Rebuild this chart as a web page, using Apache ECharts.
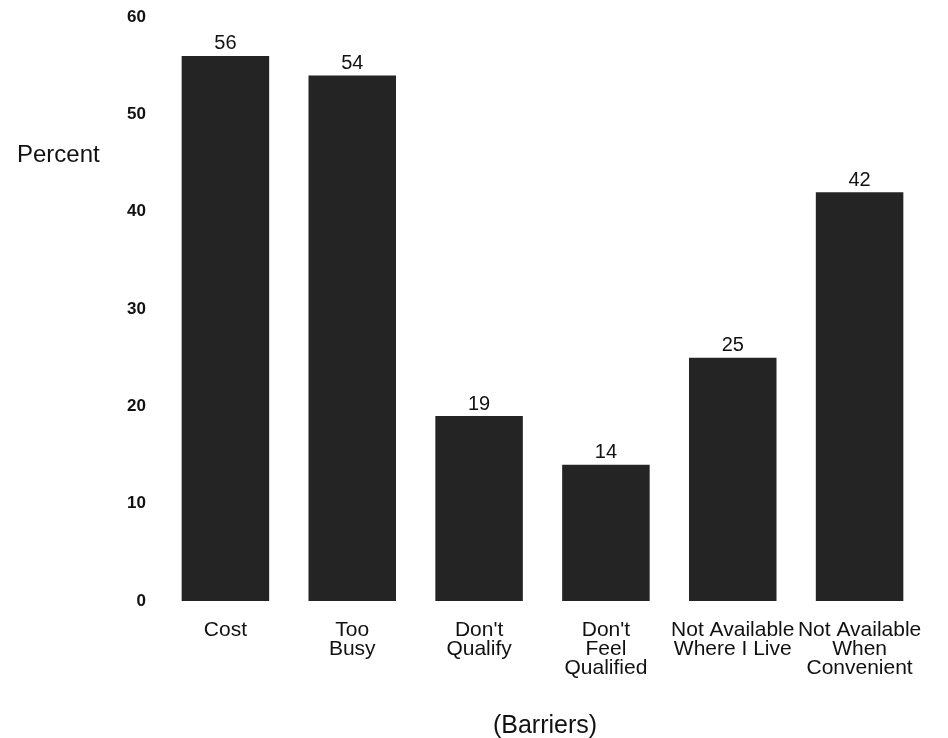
<!DOCTYPE html>
<html>
<head>
<meta charset="utf-8">
<script src="https://cdn.jsdelivr.net/npm/echarts@6/dist/echarts.min.js"></script>
<style>
  html, body { margin: 0; padding: 0; background: #fff; }
  #chart { width: 948px; height: 738px; }
</style>
</head>
<body>
<div id="chart"></div>
<script>
// Reported barriers, in percent of respondents
const categories = ['Cost', 'Too\nBusy', "Don't\nQualify", "Don't\nFeel\nQualified", 'Not Available\nWhere I Live', 'Not Available\nWhen\nConvenient'];
const percents = [56, 54, 19, 14, 25, 42];
const yTicks = [0, 10, 20, 30, 40, 50, 60];

const chart = echarts.init(document.getElementById('chart'));
chart.setOption({
  animation: false,
  backgroundColor: '#ffffff',
  textStyle: { fontFamily: 'Liberation Sans, Arial, sans-serif' },
  grid: { left: 162, right: 25, top: 17, bottom: 137, containLabel: false },
  title: [
    { text: 'Percent', left: 12, top: 138, textStyle: { fontSize: 24, fontWeight: 'normal', color: '#111' } },
    { text: '(Barriers)', left: 540, textAlign: 'center', top: 709, textStyle: { fontSize: 25, fontWeight: 'normal', color: '#111' } }
  ],
  xAxis: {
    type: 'category',
    data: categories,
    axisLine: { show: false },
    axisTick: { show: false },
    axisLabel: { color: '#111', fontSize: 21, lineHeight: 19, margin: 20, interval: 0 }
  },
  yAxis: {
    type: 'value',
    min: yTicks[0],
    max: yTicks[yTicks.length - 1],
    interval: 10,
    axisLine: { show: false },
    axisTick: { show: false },
    splitLine: { show: false },
    axisLabel: { color: '#111', fontSize: 17, fontWeight: 'bold', margin: 16 }
  },
  series: [{
    type: 'bar',
    data: percents,
    barWidth: '69%',
    itemStyle: { color: '#242424' },
    label: { show: true, position: 'top', distance: 2, color: '#111', fontSize: 20 }
  }]
});
</script>
</body>
</html>
